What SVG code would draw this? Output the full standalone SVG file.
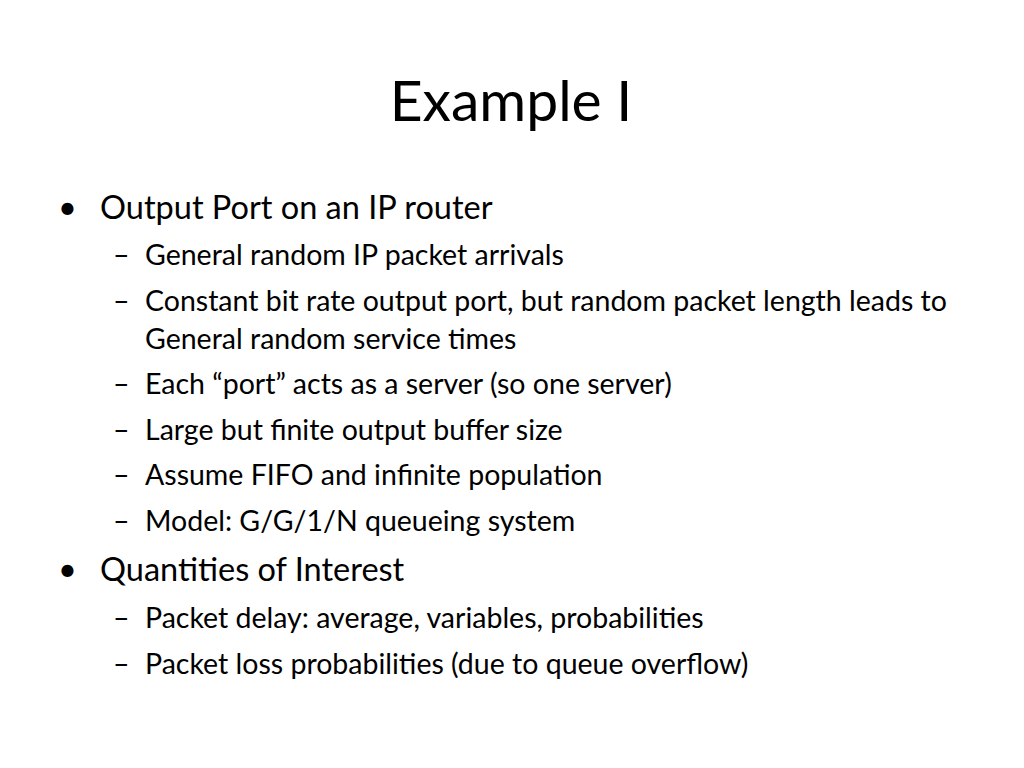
<svg xmlns="http://www.w3.org/2000/svg" width="1024" height="768" viewBox="0 0 1024 768">
<style>
text{font-family:Lato,"Open Sans","Liberation Sans",sans-serif;fill:#000}
.t{font-size:57px}
.b{font-size:32.5px}
.s{font-size:28.5px}
</style>
<rect width="1024" height="768" fill="#fff"/>
<text class="t" x="511" y="121" text-anchor="middle">Example I</text>
<g id="bullets">
<text class="b" x="58" y="219">•</text>
<text class="b" x="100" y="219">Output Port on an IP router</text>
<text class="s" x="113" y="265">–</text><text class="s" x="145" y="265">General random IP packet arrivals</text>
<text class="s" x="113" y="311">–</text><text class="s" x="145" y="311">Constant bit rate output port, but random packet length leads to</text>
<text class="s" x="145" y="349">General random service times</text>
<text class="s" x="113" y="394">–</text><text class="s" x="145" y="394">Each “port” acts as a server (so one server)</text>
<text class="s" x="113" y="440">–</text><text class="s" x="145" y="440">Large but finite output buffer size</text>
<text class="s" x="113" y="485">–</text><text class="s" x="145" y="485">Assume FIFO and infinite population</text>
<text class="s" x="113" y="531">–</text><text class="s" x="145" y="531">Model: G/G/1/N queueing system</text>
<text class="b" x="58" y="581">•</text>
<text class="b" x="100" y="581">Quantities of Interest</text>
<text class="s" x="113" y="628">–</text><text class="s" x="145" y="628">Packet delay: average, variables, probabilities</text>
<text class="s" x="113" y="674">–</text><text class="s" x="145" y="674">Packet loss probabilities (due to queue overflow)</text>
</g>
</svg>
